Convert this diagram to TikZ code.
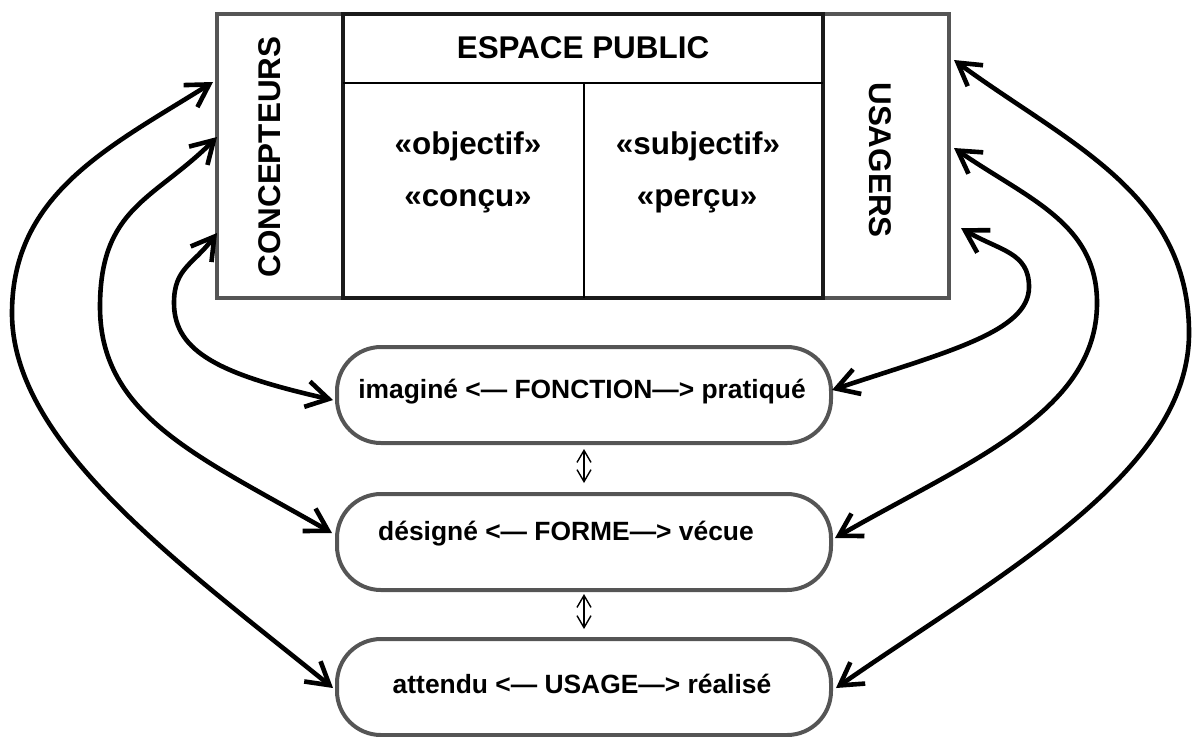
\documentclass[tikz,border=0pt]{standalone}
\usepackage{fontspec}
\setmainfont{Liberation Sans}
\usetikzlibrary{arrows.meta,calc}
\definecolor{grau}{HTML}{555555}
\definecolor{dunkel}{HTML}{1A1A1A}

\begin{document}
\begin{tikzpicture}[x=0.5pt, y=-0.5pt,
        >={Straight Barb[length=11pt,width=13pt]},   %Voreinstellung für Pfeilspitzen
        font=\bfseries\fontsize{15.7}{18}\selectfont,
        spalte/.style={draw=grau, line width=2pt, minimum width=63pt, minimum height=142pt, inner sep=0pt},
        zentrum/.style={draw=dunkel, line width=2.4pt, minimum width=240pt, minimum height=142pt, inner sep=0pt},
        boite/.style={draw=grau, line width=2pt, rounded corners=22pt, minimum width=247pt, minimum height=48pt, inner sep=0pt},
        klein/.style={font=\bfseries\fontsize{13.2}{16}\selectfont, anchor=base},
        bogen/.style={<->, line width=2.3pt},
        kurz/.style={{Straight Barb[length=6pt,width=7pt]}-{Straight Barb[length=6pt,width=7pt]}, line width=0.7pt}]
        \useasboundingbox (0,0) rectangle (1192,736);
        % Rahmen oben
        \node[spalte] (concepteurs) at (280,156) {};
        \node[spalte] (usagers) at (886,156) {};
        \node[zentrum] (espace) at (583,156) {};
        \draw[line width=1pt] (343,83) -- (823,83);
        \draw[line width=1pt] (584,83) -- (584,298);
        % Beschriftung Rahmen
        \node[rotate=90] (tconcepteurs) at (270,157) {CONCEPTEURS};
        \node[rotate=-90] (tusagers) at (880,160) {USAGERS};
        \node (tespace) at (583,47.5) {ESPACE PUBLIC};
        \node[anchor=base] (tobjectif) at (468,154) {«objectif»};
        \node[anchor=base] (tconcu) at (468,206) {«conçu»};
        \node[anchor=base] (tsubjectif) at (698,154) {«subjectif»};
        \node[anchor=base] (tpercu) at (697,206) {«perçu»};
        % Kästen unten
        \node[boite] (fonction) at (584,395) {};
        \node[boite] (forme) at (584,542) {};
        \node[boite] (usage) at (584,687) {};
        \node[klein] (tfonction) at ($(fonction)+(-2,3)$) {imaginé <— FONCTION—> pratiqué};
        \node[klein] (tforme) at ($(forme)+(-18,-2)$) {désigné <— FORME—> vécue};
        \node[klein] (tusage) at ($(usage)+(-2,6)$) {attendu <— USAGE—> réalisé};
        \draw[kurz] ([yshift=-2pt]fonction.south) -- ([yshift=4.5pt]forme.north);
        \draw[kurz] ([yshift=-1pt]forme.south) -- ([yshift=4pt]usage.north);
        % Bögen links
        \draw[bogen] ($(concepteurs.west)+(-2,-74)$) .. controls +(-102,64) and +(0,-120) .. (12,313)
            .. controls +(0,130) and +(-156,-126) .. ($(usage.west)+(-2,1)$);
        \draw[bogen] ($(concepteurs.west)+(2,-19)$) .. controls +(-63,63) and +(0,-100) .. (100,307)
            .. controls +(0,110) and +(-130,-75) .. ($(forme.west)+(-3,-9)$);
        \draw[bogen] ($(concepteurs.west)+(2,77)$) .. controls +(-24,32) and +(0,-35) .. (174,303)
            .. controls +(0,50) and +(-110,-25) .. ($(fonction.west)+(-2,5)$);
        % Bögen rechts
        \draw[bogen] ($(usagers.east)+(3,-96)$) .. controls +(113,83) and +(0,-140) .. (1189,333)
            .. controls +(0,140) and +(164,-114) .. ($(usage.east)+(3,1)$);
        \draw[bogen] ($(usagers.east)+(3,-8)$) .. controls +(74,51) and +(0,-80) .. (1097,303)
            .. controls +(0,110) and +(130,-75) .. ($(forme.east)+(2,-4)$);
        \draw[bogen] ($(usagers.east)+(10,72)$) .. controls +(39,23) and +(0,-35) .. (1029,287)
            .. controls +(0,45) and +(114,-38) .. ($(fonction.east)+(-1,-5)$);
    \end{tikzpicture}
\end{document}
